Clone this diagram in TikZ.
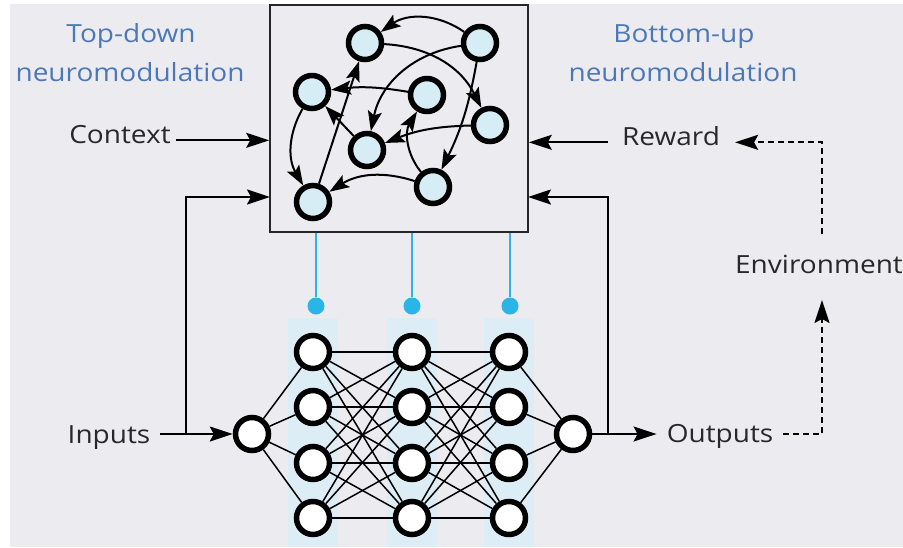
\documentclass[tikz,border=0pt]{standalone}
\usepackage{fontspec}
\setmainfont[FakeStretch=1.12]{Open Sans}
\usetikzlibrary{arrows.meta}
\definecolor{bgc}{RGB}{236,235,240}
\definecolor{nodeblue}{RGB}{214,237,246}
\definecolor{pincol}{RGB}{43,180,230}
\definecolor{lbl}{RGB}{76,120,184}
\definecolor{txt}{RGB}{40,40,40}
\definecolor{colblue}{RGB}{221,237,246}
\pgfdeclarelayer{bg}
\pgfdeclarelayer{edges}
\pgfsetlayers{bg,edges,main}

\begin{document}
\begin{tikzpicture}[x=1pt,y=-1pt,
  neuron/.style={circle,draw=black,line width=5.5pt,minimum size=33pt,inner sep=0pt,fill=white},
  rnode/.style={neuron,fill=nodeblue},
  link/.style={line width=1.5pt,black},
  rarr/.style={line width=2pt,-{Stealth[length=20pt,width=14pt,inset=4pt]}},
  flow/.style={line width=2pt,-{Stealth[length=23pt,width=15pt,inset=4pt]}},
  dflow/.style={flow,dash pattern=on 6pt off 4pt},
  lab/.style={font=\fontsize{25}{30}\selectfont,text=txt,inner sep=0pt,anchor=base},
  head/.style={lab,text=lbl},
  pindot/.style={circle,fill=pincol,minimum size=17pt,inner sep=0pt},
  pinline/.style={line width=2pt,pincol},
  column/.style={fill=colblue},
]
\useasboundingbox (0,0) rectangle (903,547);
\begin{pgfonlayer}{bg}
\fill[white] (0,0) rectangle (903,547);
\fill[bgc] (10,4) rectangle (903,547);
% hidden-layer column shading
\foreach \cx in {313,412,509}
  \fill[column] (\cx-25,318) rectangle (\cx+25,547);
\end{pgfonlayer}

% recurrent modulating network
\node[draw=black!85,line width=1.6pt,fill=bgc,minimum width=258pt,minimum height=227pt,inner sep=0pt] (box) at (399,118.5) {};
\node[rnode] (ta) at (365,43) {};
\node[rnode] (tb) at (480,43) {};
\node[rnode] (tc) at (312,92) {};
\node[rnode] (td) at (427,95) {};
\node[rnode] (te) at (490,125) {};
\node[rnode] (tf) at (367,150) {};
\node[rnode] (tg) at (433,187) {};
\node[rnode] (th) at (313,202) {};

\draw[rarr] (tb) to[bend right=35] (ta);
\draw[rarr] (ta) to[bend left=30] (te);
\draw[rarr] (tb) to[bend right=35] (tf);
\draw[rarr] (tb) to[bend left=8] (tg);
\draw[rarr] (td) to[bend right=8] (tc);
\draw[rarr] (tf) -- (tc);
\draw[rarr] (te) to[bend right=10] (tf);
\draw[rarr] (tg) to[bend left=35] (td);
\draw[rarr] (tc) to[bend right=30] (th);
\draw[rarr] (th) -- (ta);
\draw[rarr] (tg) to[bend right=25] (th);

% feedforward network
\node[neuron] (in0) at (252,434) {};
\node[neuron] (out0) at (573,434) {};
\foreach \l/\cx in {1/313,2/412,3/509}
  \foreach \i/\cy in {1/352,2/407,3/463,4/518}
    \node[neuron] (h\l\i) at (\cx,\cy) {};

\begin{pgfonlayer}{edges}
\foreach \i in {1,...,4}{
  \draw[link] (in0) -- (h1\i);
  \draw[link] (h3\i) -- (out0);
  \foreach \j in {1,...,4}{
    \draw[link] (h1\i) -- (h2\j);
    \draw[link] (h2\i) -- (h3\j);
  }
}
\end{pgfonlayer}

% neuromodulatory pins
\foreach \k/\cx in {1/316,2/412,3/510}{
  \node[pindot] (p\k) at (\cx,306) {};
  \draw[pinline] (p\k) -- (p\k |- box.south);
}

% labels
\node[head] (tdl) at (131,42) {Top-down};
\node[head] (tdm) at (130,81) {neuromodulation};
\node[head] (bul) at (684,42) {Bottom-up};
\node[head] (bum) at (683,81) {neuromodulation};
\node[lab] (ctx) at (120,143) {Context};
\node[lab] (inp) at (109,443) {Inputs};
\node[lab] (rew) at (671,145) {Reward};
\node[lab] (outp) at (720,442) {Outputs};
\node[lab] (env) at (819,273) {Environment};

% signal paths
\coordinate (fbl) at (186,434);
\coordinate (fblend) at (270,197);
\coordinate (fbr) at (608,434);
\coordinate (fbrend) at (528,197);
\draw[flow] ([xshift=5pt]ctx.mid east) -- (ctx.mid east -| box.west);
\draw[flow] ([xshift=10pt]inp.mid east |- in0) -- (in0.west);
\draw[flow] (fbl) |- (fblend);
\draw[flow] (out0.east) -- ([xshift=-10pt]outp.mid west |- out0);
\draw[flow] (fbr) |- (fbrend);
\draw[flow] ([xshift=-14pt]rew.mid west) -- (rew.mid west -| box.east);

% environment loop
\draw[dflow] ([xshift=10pt]outp.mid east |- out0) -| ([xshift=3pt,yshift=-27pt]env.base);
\draw[dflow] ([xshift=3pt,yshift=20pt]env.north) |- ([xshift=15pt]rew.mid east);
\end{tikzpicture}
\end{document}
